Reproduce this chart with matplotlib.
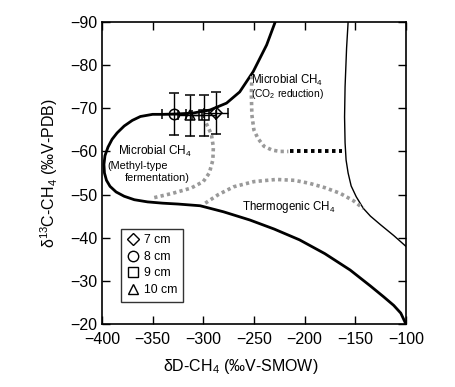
import matplotlib
matplotlib.use("Agg")
import matplotlib.pyplot as plt
from matplotlib.lines import Line2D

plt.rcParams['font.family'] = ['Liberation Sans', 'DejaVu Sans']
plt.rcParams['mathtext.fontset'] = 'custom'
plt.rcParams['mathtext.rm'] = 'Liberation Sans'
plt.rcParams['mathtext.it'] = 'Liberation Sans:italic'

# samples (depth, dD, d13C)
depths = ["7 cm", "8 cm", "9 cm", "10 cm"]
markers = ["D", "o", "s", "^"]
dD = [-287.5, -329.0, -299.5, -313.0]
d13C = [-68.9, -68.7, -68.4, -68.4]
dD_err = [12, 12, 12, 12]
d13C_err = [4.8, 4.8, 4.8, 4.8]

# outer boundary (thick)
outer_x = [-229, -237.4, -250.7, -264, -277, -293.4, -310, -325, -340, -350, -362,
           -370, -378, -385, -390, -394, -397, -398, -397.5, -395.5, -392, -386,
           -378, -368, -355, -340, -325, -303, -280, -254, -230, -205, -180, -155,
           -135, -122, -112, -105, -100]
outer_y = [-90, -84.7, -78.5, -73.8, -71.2, -69.6, -68.9, -68.7, -68.6, -68.6, -68.1,
           -67.2, -65.9, -64.3, -62.8, -61, -59, -57, -55, -53.3, -51.9, -50.6,
           -49.6, -48.8, -48.3, -48.0, -47.8, -47.4, -46, -44.1, -42, -39.5, -36.3,
           -32.5, -28.8, -26.3, -24.3, -22.5, -20]

# right boundary (thin)
thin_x = [-157, -158.5, -160, -160.5, -160, -159, -157, -154, -149, -142, -135,
          -125, -112, -100]
thin_y = [-90, -84, -75, -68, -62, -58, -55, -52, -49.5, -46.8, -45, -43, -40.5, -38]

# grey dotted field borders
methyl_x = [-297, -292, -290, -290.5, -294, -300, -312, -330, -350]
methyl_y = [-66.5, -64, -61, -58, -55, -53, -51.5, -50.3, -49.2]
co2_x = [-252, -252.5, -252, -250, -246, -240, -232, -224, -216]
co2_y = [-77.5, -73, -68.5, -65, -63, -61.2, -60.3, -60, -60]
thermo_x = [-298, -285, -270, -250, -228, -210, -195, -180, -165, -152, -142]
thermo_y = [-48, -50, -51.8, -53, -53.5, -53.3, -52.6, -51.6, -50.3, -48.6, -46.8]
black_x = [-214, -163]
black_y = [-60, -60]

fig = plt.figure(figsize=(4.55, 3.87), dpi=100)
ax = fig.add_axes([0.224, 0.163, 0.668, 0.78])

ax.plot(outer_x, outer_y, color="black", lw=2.0, solid_joinstyle="round")
ax.plot(thin_x, thin_y, color="black", lw=1.0)
grey = "#9a9a9a"
for xs, ys in [(methyl_x, methyl_y), (co2_x, co2_y), (thermo_x, thermo_y)]:
    ax.plot(xs, ys, color=grey, lw=2.6, linestyle=(0, (0.9, 0.9)), dash_capstyle="butt")
ax.plot(black_x, black_y, color="black", lw=2.8, linestyle=(0, (0.9, 0.9)),
        dash_capstyle="butt")

handles = []
for i in range(len(depths)):
    ms = 7.5 if markers[i] != "D" else 6.5
    ax.errorbar(dD[i], d13C[i], xerr=dD_err[i], yerr=d13C_err[i], fmt=markers[i],
                mfc="none", mec="black", ms=ms, mew=1.1,
                ecolor="black", elinewidth=1.0, capsize=3.5, capthick=1.0, zorder=5)
    handles.append(Line2D([], [], marker=markers[i], ls="none", mfc="none", mec="black",
                          ms=ms, mew=1.0))

leg = ax.legend(handles, depths, loc="lower left", bbox_to_anchor=(0.063, 0.074),
                fontsize=8.8, frameon=True, fancybox=False, edgecolor="black",
                handletextpad=0.35, labelspacing=0.38, borderpad=0.45, handlelength=1.1,
                borderaxespad=0)
leg.get_frame().set_linewidth(1.0)

ax.text(-384, -60.0, "Microbial CH$_4$", fontsize=8.5, ha="left", va="center")
ax.text(-395, -56.6, "(Methyl-type", fontsize=7.8, ha="left", va="center")
ax.text(-377, -53.9, "fermentation)", fontsize=7.8, ha="left", va="center")
ax.text(-253, -76.5, "Microbial CH$_4$", fontsize=8.3, ha="left", va="center")
ax.text(-253, -73.3, "(CO$_2$ reduction)", fontsize=7.4, ha="left", va="center")
ax.text(-262, -47.2, "Thermogenic CH$_4$", fontsize=8.3, ha="left", va="center")

ax.set_xlim(-400, -100)
ax.set_ylim(-20, -90)
ax.set_xticks(range(-400, -99, 50))
ax.set_yticks(range(-90, -19, 10))
ax.set_xticklabels([f"\u2212{abs(v)}" for v in range(-400, -99, 50)])
ax.set_yticklabels([f"\u2212{abs(v)}" for v in range(-90, -19, 10)])
ax.tick_params(direction="in", length=6, width=1.0, top=True, right=True,
               labelsize=11.5)
ax.tick_params(axis="x", pad=6)
ax.tick_params(axis="y", pad=3.5)
for s in ax.spines.values():
    s.set_linewidth(1.2)

ax.set_xlabel("\u03b4D-CH$_4$ (\u2030V-SMOW)", fontsize=11.5)
ax.set_ylabel("\u03b4$^{13}$C-CH$_4$ (\u2030V-PDB)", fontsize=11.5)
ax.xaxis.set_label_coords(0.457, -0.108)
ax.yaxis.set_label_coords(-0.138, 0.5)

fig.savefig("out.png", dpi=100)
